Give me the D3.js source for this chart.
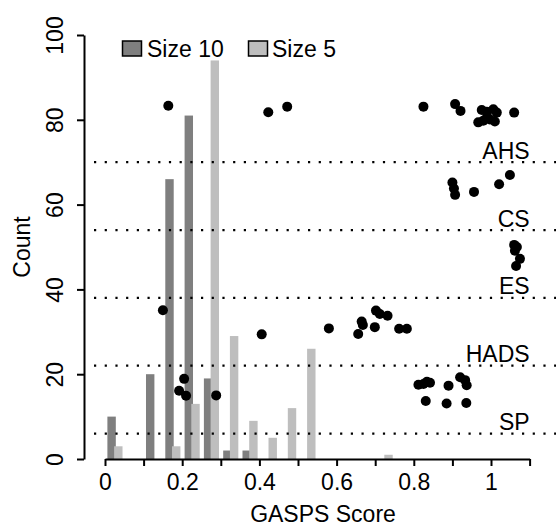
<!DOCTYPE html>
<html>
<head>
<meta charset="utf-8">
<script src="https://cdn.jsdelivr.net/npm/d3@7"></script>
<style>
  body { margin: 0; background: #fff; }
  svg text { font-family: "Liberation Sans", Arial, Helvetica, sans-serif; font-size: 23px; fill: #000; }
</style>
</head>
<body>
<svg id="chart"></svg>
<script>
// histogram bins (bin midpoints) and counts
const size10Mids = [0.025, 0.125, 0.175, 0.225, 0.275, 0.325, 0.375];
const size10Counts = [10, 20, 66, 81, 19, 2, 2];
const size5Mids = [0.025, 0.175, 0.225, 0.275, 0.325, 0.375, 0.425, 0.475, 0.525, 0.725];
const size5Counts = [3, 3, 13, 94, 29, 9, 5, 12, 26, 1];

// reference lines for each instrument
const groupNames = ["AHS", "CS", "ES", "HADS", "SP"];
const groupLines = [70, 54, 38, 22, 6];

// jittered points [score, count position]
const ahsPoints = [[0.164, 83.3], [0.423, 81.8], [0.472, 83.1], [0.825, 83.1], [0.907, 83.7],
  [0.921, 82.1], [0.976, 82.3], [0.989, 81.9], [1.006, 82.5], [1.015, 81.7], [0.967, 79.4],
  [0.98, 79.8], [0.997, 80.1], [1.01, 79.6], [0.99, 80.7], [1.06, 81.7]];
const csPoints = [[0.9, 65.2], [0.904, 63.8], [0.907, 62.3], [0.956, 63.0], [1.021, 64.8], [1.049, 67.0]];
const esPoints = [[1.06, 50.5], [1.067, 50.0], [1.062, 49.1], [1.075, 47.2], [1.065, 45.5]];
const hadsPoints = [[0.15, 35.1], [0.406, 29.4], [0.58, 30.8], [0.656, 29.5], [0.665, 32.4],
  [0.668, 31.6], [0.699, 31.1], [0.702, 35.0], [0.712, 34.2], [0.732, 33.8], [0.762, 30.7], [0.782, 30.7]];
const spPoints = [[0.205, 18.9], [0.192, 16.1], [0.21, 14.9], [0.288, 15.0], [0.812, 17.5],
  [0.825, 17.7], [0.834, 18.2], [0.842, 18.0], [0.89, 17.3], [0.92, 19.3], [0.933, 18.6],
  [0.937, 17.4], [0.831, 13.7], [0.885, 13.1], [0.936, 13.2]];

const xTicks = d3.range(12).map((i) => i / 10);
const yTicks = [0, 20, 40, 60, 80, 100];

const width = 556;
const height = 526;
const dark = "#7f7f7f";
const light = "#bebebe";

const svg = d3.select("#chart").attr("width", width).attr("height", height);

const x = d3.scaleLinear().domain([0, 1.1]).range([105, 529.6]);
const y = d3.scaleLinear().domain([0, 100]).range([459, 35]);
const yAxisX = 84;
const barW = x(0.0218) - x(0);

// bars
svg.append("g")
  .selectAll("rect")
  .data(size10Mids.map((m, i) => ({ m, c: size10Counts[i] })))
  .join("rect")
  .attr("x", (d) => x(d.m - 0.0188))
  .attr("y", (d) => y(d.c))
  .attr("width", barW)
  .attr("height", (d) => y(0) - y(d.c))
  .style("fill", dark);

svg.append("g")
  .selectAll("rect")
  .data(size5Mids.map((m, i) => ({ m, c: size5Counts[i] })))
  .join("rect")
  .attr("x", (d) => x(d.m - 0.0014))
  .attr("y", (d) => y(d.c))
  .attr("width", barW)
  .attr("height", (d) => y(0) - y(d.c))
  .style("fill", light);

// dotted reference lines and labels
svg.append("g")
  .selectAll("line")
  .data(groupLines)
  .join("line")
  .attr("x1", 94)
  .attr("x2", width)
  .attr("y1", (d) => y(d))
  .attr("y2", (d) => y(d))
  .style("stroke", "#000")
  .style("stroke-width", 2.2)
  .style("stroke-dasharray", "2.2,8.5");

svg.append("g")
  .selectAll("text")
  .data(groupNames)
  .join("text")
  .attr("x", x(1.1))
  .attr("y", (d, i) => y(groupLines[i]) - 3.5)
  .attr("text-anchor", "end")
  .text((d) => d);

// points
const allPoints = [].concat(ahsPoints, csPoints, esPoints, hadsPoints, spPoints);
svg.append("g")
  .selectAll("circle")
  .data(allPoints)
  .join("circle")
  .attr("cx", (d) => x(d[0]))
  .attr("cy", (d) => y(d[1]))
  .attr("r", 5)
  .style("fill", "#000");

// axes
const xAxis = d3.axisBottom(x)
  .tickValues(xTicks)
  .tickSize(7)
  .tickSizeOuter(0)
  .tickPadding(7.5)
  .tickFormat((d) => {
    const k = Math.round(d * 10);
    return k % 2 === 0 && k <= 10 ? d3.format("~g")(d) : "";
  });

const gx = svg.append("g")
  .attr("transform", `translate(0, ${y(0)})`)
  .call(xAxis);

const yAxis = d3.axisLeft(y).tickValues(yTicks).tickSize(7).tickSizeOuter(0);
const gy = svg.append("g")
  .attr("transform", `translate(${yAxisX}, 0)`)
  .call(yAxis);
gy.selectAll(".tick text")
  .attr("transform", "rotate(-90)")
  .attr("x", 0)
  .attr("y", -21)
  .attr("dy", 0)
  .attr("text-anchor", "middle");

[gx, gy].forEach((g) => {
  g.selectAll("path, line").style("stroke", "#000").style("stroke-width", 2);
  g.selectAll("text").style("font-size", "23px").style("font-family", null);
});

// axis titles
svg.append("text")
  .attr("x", (yAxisX + 562) / 2)
  .attr("y", 522)
  .attr("text-anchor", "middle")
  .text("GASPS Score");

svg.append("text")
  .attr("transform", `translate(30, ${(y(-4) + y(104)) / 2}) rotate(-90)`)
  .attr("text-anchor", "middle")
  .text("Count");

// legend
const legend = [
  { label: "Size 10", fill: dark, bx: 122.5, tx: 147 },
  { label: "Size 5", fill: light, bx: 248.5, tx: 272 },
];
const lg = svg.append("g").selectAll("g").data(legend).join("g");
lg.append("rect")
  .attr("x", (d) => d.bx)
  .attr("y", 41)
  .attr("width", 19)
  .attr("height", 15)
  .style("fill", (d) => d.fill)
  .style("stroke", "#000")
  .style("stroke-width", 1.5);
lg.append("text")
  .attr("x", (d) => d.tx)
  .attr("y", 56.5)
  .text((d) => d.label);
</script>
</body>
</html>
